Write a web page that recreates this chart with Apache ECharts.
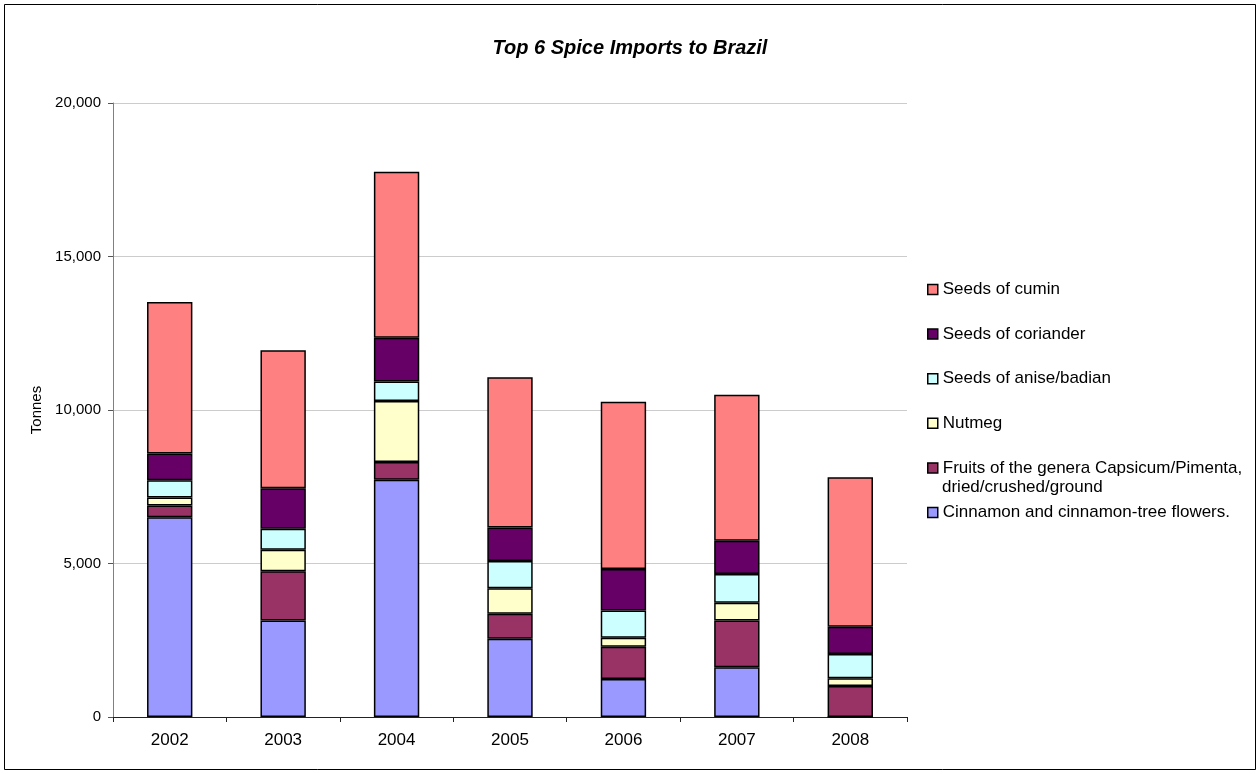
<!DOCTYPE html>
<html>
<head>
<meta charset="utf-8">
<script src="https://cdn.jsdelivr.net/npm/echarts@6/dist/echarts.min.js"></script>
<style>
  html, body { margin: 0; padding: 0; background: #fff; }
  #chart { width: 1260px; height: 774px; }
</style>
</head>
<body>
<div id="chart"></div>
<script>
// ---- Data (tonnes) ----
const years = ['2002', '2003', '2004', '2005', '2006', '2007', '2008'];

const cinnamon  = [6510, 3140, 7730, 2550, 1240, 1620, 0];
const capsicum  = [380, 1610, 580, 810, 1050, 1520, 1010];
const nutmeg    = [260, 700, 1980, 830, 290, 580, 250];
const anise     = [560, 680, 640, 890, 890, 940, 790];
const coriander = [870, 1320, 1420, 1090, 1350, 1080, 890];
const cumin     = [4940, 4500, 5410, 4900, 5450, 4760, 4870];

const seriesNames = [
  'Cinnamon and cinnamon-tree flowers.',
  'Fruits of the genera Capsicum/Pimenta, dried/crushed/ground',
  'Nutmeg',
  'Seeds of anise/badian',
  'Seeds of coriander',
  'Seeds of cumin'
];
const seriesValues = [cinnamon, capsicum, nutmeg, anise, coriander, cumin];
const seriesColors = ['#9999FF', '#993366', '#FFFFCC', '#CCFFFF', '#660066', '#FF8080'];

const yTicks = { min: 0, max: 20000, interval: 5000 };

const FONT = '"Liberation Sans", Arial, Helvetica, sans-serif';

const chart = echarts.init(document.getElementById('chart'), null, { renderer: 'canvas' });

const series = seriesNames.map((name, i) => ({
  name: name,
  type: 'bar',
  stack: 'total',
  barWidth: '40%',
  data: seriesValues[i],
  itemStyle: { color: seriesColors[i], borderColor: '#000', borderWidth: 1.5 },
  emphasis: { disabled: true }
}));

chart.setOption({
  animation: false,
  backgroundColor: '#fff',
  textStyle: { fontFamily: FONT },
  title: {
    text: 'Top 6 Spice Imports to Brazil',
    left: 'center',
    top: 33,
    textStyle: { fontFamily: FONT, fontSize: 20, fontWeight: 'bold', fontStyle: 'italic', color: '#000' }
  },
  legend: {
    orient: 'vertical',
    left: 927,
    top: 281,
    padding: 0,
    itemWidth: 10,
    itemHeight: 10,
    itemGap: 27.6,
    icon: 'rect',
    itemStyle: { borderColor: '#000', borderWidth: 1.5 },
    data: seriesNames.slice().reverse(),
    formatter: function (name) {
      return name.indexOf('Fruits') === 0 ? 'Fruits of the genera Capsicum/Pimenta,' : name;
    },
    textStyle: { fontFamily: FONT, fontSize: 17, lineHeight: 17, color: '#000', padding: [0, 0, 0, 0] }
  },
  graphic: [
    {
      type: 'rect',
      shape: { x: 4.5, y: 4.5, width: 1251, height: 765 },
      style: { fill: 'none', stroke: '#000', lineWidth: 1 },
      silent: true
    },
    {
      type: 'text',
      left: 942,
      top: 479,
      style: { text: 'dried/crushed/ground', font: '17px ' + FONT, fill: '#000' }
    }
  ],
  grid: { left: 113, right: 353, top: 103, bottom: 57, containLabel: false },
  xAxis: {
    type: 'category',
    data: years,
    axisLine: { lineStyle: { color: '#222', width: 1 } },
    axisTick: { show: true, length: 5, lineStyle: { color: '#222' } },
    axisLabel: { fontFamily: FONT, fontSize: 17, color: '#000', margin: 15 },
    splitLine: { show: false }
  },
  yAxis: {
    type: 'value',
    min: yTicks.min,
    max: yTicks.max,
    interval: yTicks.interval,
    name: 'Tonnes',
    nameLocation: 'middle',
    nameGap: 66,
    nameTextStyle: { fontFamily: FONT, fontSize: 15, color: '#000' },
    axisLine: { show: true, lineStyle: { color: '#808080', width: 1 } },
    axisTick: { show: true, length: 5, lineStyle: { color: '#555' } },
    axisLabel: {
      fontFamily: FONT, fontSize: 15, color: '#000', margin: 12,
      formatter: v => v.toLocaleString('en-US')
    },
    splitLine: { show: true, lineStyle: { color: '#cccccc', width: 1 } }
  },
  series: series
});
</script>
</body>
</html>
